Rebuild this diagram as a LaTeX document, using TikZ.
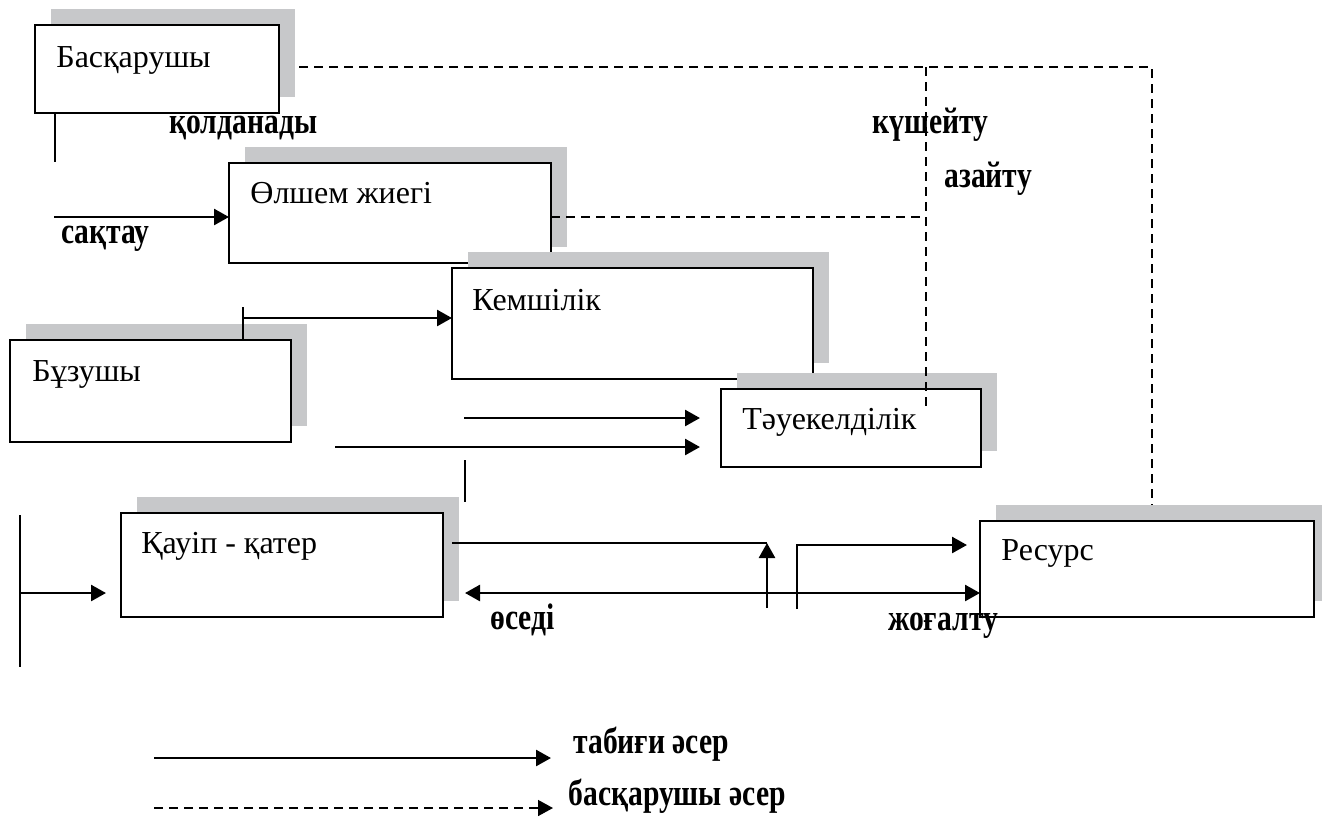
\documentclass[tikz,border=0pt]{standalone}
\usepackage{fontspec}
\setmainfont{Liberation Serif}
\newfontfamily\labelfont{Liberation Serif}[FakeStretch=0.8]
\usetikzlibrary{arrows.meta,shadows}
\definecolor{shadowgray}{RGB}{199,200,202}
\begin{document}
\begin{tikzpicture}[x=0.5pt,y=-0.5pt,
           box_style/.style={draw=black,line width=1pt,fill=white,anchor=north west,outer sep=0pt,inner sep=0pt,
             general shadow={fill=shadowgray,shadow xshift=8pt,shadow yshift=8pt}},
           name_style/.style={anchor=base west,inner sep=0pt,font=\fontsize{16pt}{19pt}\selectfont},
           label_style/.style={anchor=base west,inner sep=0pt,font=\labelfont\bfseries\fontsize{18.5pt}{22pt}\selectfont},
           edge_style/.style={draw=black,line width=1.3pt,-{Triangle[length=7.5pt,width=8pt]}},
           both_style/.style={draw=black,line width=1.3pt,{Triangle[length=7.5pt,width=8pt]}-{Triangle[length=7.5pt,width=8pt]}},
           line_style/.style={draw=black,line width=0.8pt},
           control_style/.style={draw=black,line width=0.75pt,dash pattern=on 4.5pt off 3pt}]
            \useasboundingbox (0,0) rectangle (1322,816);
            \node[box_style,minimum width=122pt,minimum height=44pt] (bask) at (35,25) {};
            \node[box_style,minimum width=161pt,minimum height=50pt] (olshem) at (229,163) {};
            \node[box_style,minimum width=180.5pt,minimum height=55.5pt] (kemsh) at (452,268) {};
            \node[box_style,minimum width=140.5pt,minimum height=51pt] (buz) at (10,340) {};
            \node[box_style,minimum width=130pt,minimum height=39pt] (tauek) at (721,389) {};
            \node[box_style,minimum width=161pt,minimum height=52pt] (kauip) at (121,513) {};
            \node[box_style,minimum width=167pt,minimum height=48pt] (resurs) at (980,521) {};
            \node[name_style] (bask_t) at ([shift={(21,42)}]bask.north west) {Басқарушы};
            \node[name_style] (olshem_t) at ([shift={(21,40)}]olshem.north west) {Өлшем жиегі};
            \node[name_style] (kemsh_t) at ([shift={(20,42)}]kemsh.north west) {Кемшілік};
            \node[name_style] (buz_t) at ([shift={(22,41)}]buz.north west) {Бұзушы};
            \node[name_style] (tauek_t) at ([shift={(21,40)}]tauek.north west) {Тәуекелділік};
            \node[name_style] (kauip_t) at ([shift={(20,40)}]kauip.north west) {Қауіп - қатер};
            \node[name_style] (resurs_t) at ([shift={(21,39)}]resurs.north west) {Ресурс};
            \coordinate (kush_top) at (926,67);
            \coordinate (kush_end) at (926,408);
            \coordinate (res_top) at (1152,67);
            \draw[control_style] ([xshift=10pt,yshift=1pt]bask.east) -- (res_top) -- ([yshift=8pt]res_top |- resurs.north);
            \draw[control_style] (kush_top) -- (kush_end);
            \draw[control_style] ([yshift=-2pt]olshem.east) -- ([yshift=-2pt]kush_top |- olshem.east);
            \draw[line_style] ([xshift=10pt]bask.south west) -- ++(0,49);
            \coordinate (saktau_s) at (54,217);
            \draw[edge_style] (saktau_s) -- (saktau_s -| olshem.west);
            \coordinate (kem_tick) at (243,307);
            \coordinate (kem_s) at (243,318);
            \draw[line_style] (kem_tick) -- (kem_tick |- buz.north);
            \draw[edge_style] (kem_s) -- (kem_s -| kemsh.west);
            \coordinate (tau_a) at (464,418);
            \coordinate (tau_b) at (335,447);
            \draw[edge_style] (tau_a) -- ([xshift=-10.5pt]tau_a -| tauek.west);
            \draw[edge_style] (tau_b) -- ([xshift=-10.5pt]tau_b -| tauek.west);
            \coordinate (tick_a) at (465,460);
            \draw[line_style] (tick_a) -- ++(0,42);
            \coordinate (kau_top) at (20,515);
            \coordinate (kau_s) at (20,593);
            \draw[line_style] (kau_top) -- ++(0,152);
            \draw[edge_style] (kau_s) -- ([xshift=-7.5pt]kau_s -| kauip.west);
            \coordinate (up_a) at (767,608);
            \coordinate (up_b) at (767,543);
            \draw[line_style] ([xshift=4.5pt,yshift=11pt]kauip.east) -- (up_b);
            \draw[edge_style] (up_a) -- (up_b);
            \coordinate (res_s) at (797,609);
            \coordinate (res_k) at (797,545);
            \draw[edge_style] (res_s) -- (res_k) -- ([xshift=-6.5pt]res_k -| resurs.west);
            \coordinate (grow) at (465,593);
            \draw[both_style] (grow) -- (grow -| resurs.west);
            \node[label_style] (kold) at (169,133) {қолданады};
            \node[label_style] (sakt) at (61,243) {сақтау};
            \node[label_style] (kush) at (872,133) {күшейту};
            \node[label_style] (azai) at (944,187) {азайту};
            \node[label_style] (osedi) at (490,629) {өседі};
            \node[label_style] (zhog) at (888,630) {жоғалту};
            \coordinate (leg_a) at (154,758);
            \coordinate (leg_b) at (154,808);
            \draw[edge_style] (leg_a) -- ++(397,0);
            \draw[control_style,-{Triangle[length=7.5pt,width=8pt]}] (leg_b) -- ++(399,0);
            \node[label_style] (leg_at) at (573,753) {табиғи әсер};
            \node[label_style] (leg_bt) at (568,805) {басқарушы әсер};
        \end{tikzpicture}
\end{document}
